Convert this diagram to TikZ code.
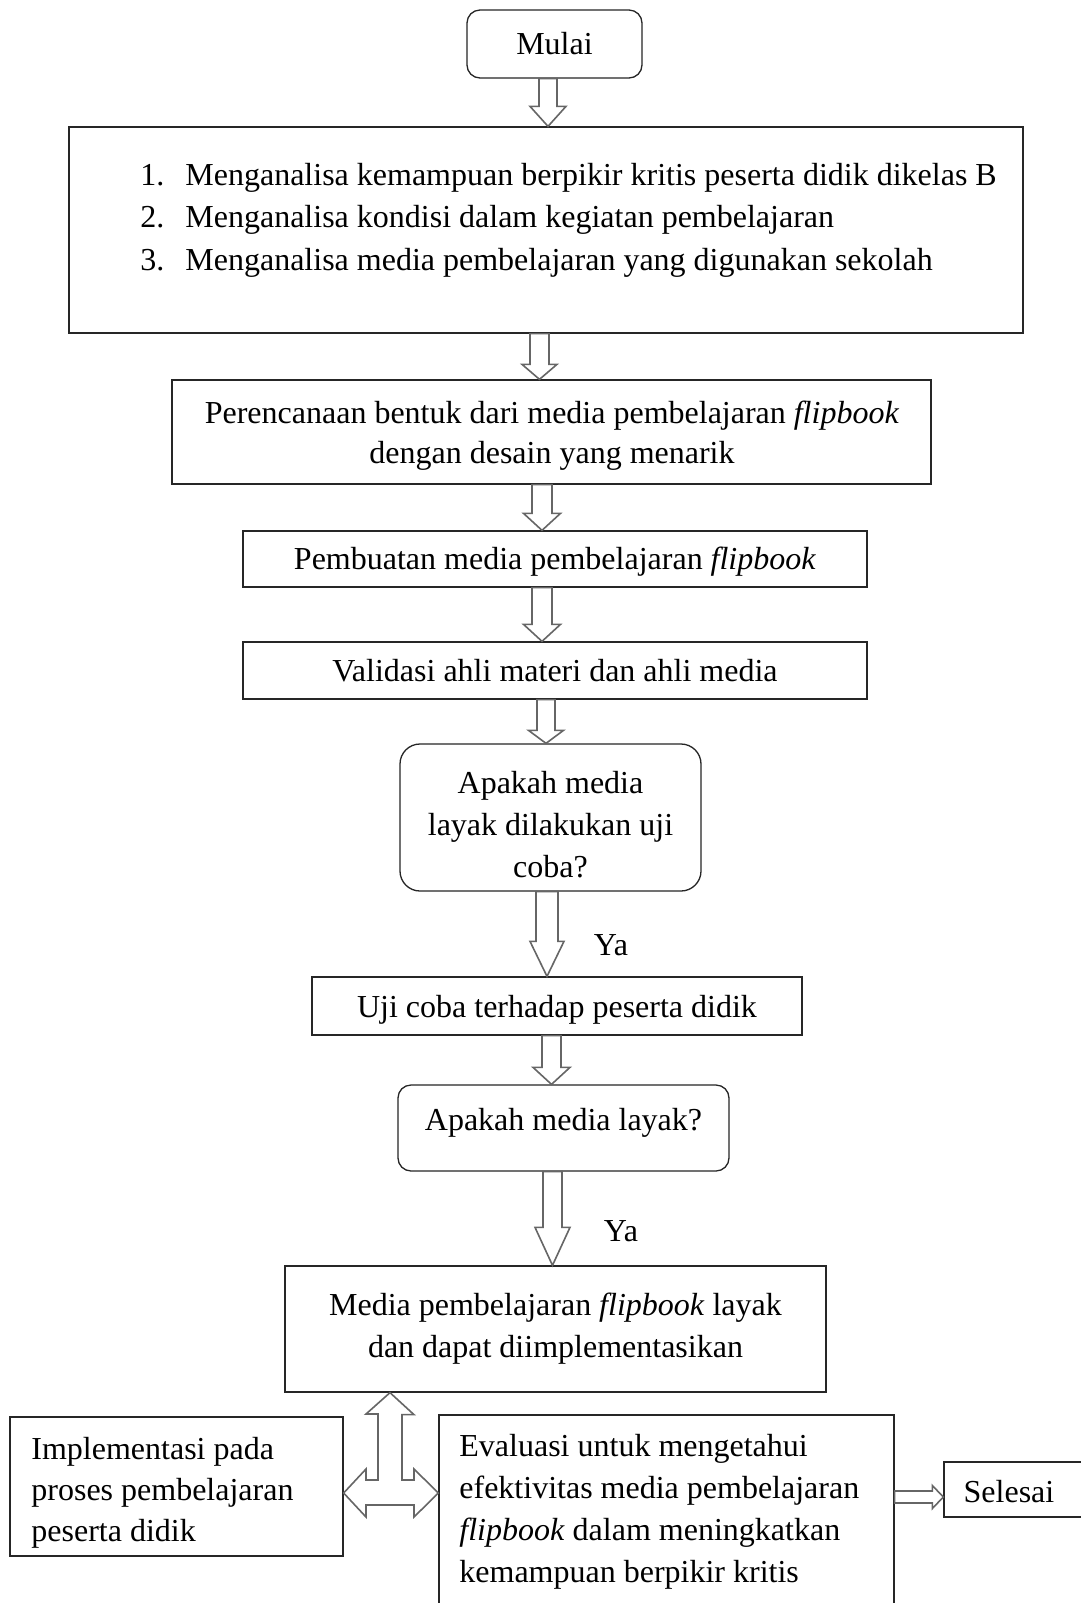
\documentclass[tikz,border=0pt]{standalone}
\usepackage{fontspec}
\setmainfont{Liberation Serif}
\usetikzlibrary{calc}
\tikzset{
  txt/.style={font=\fontsize{16}{21}\selectfont, inner sep=0pt},
  box/.style={draw=black!85, line width=0.65pt, fill=white, inner sep=0pt, txt, align=center},
  harrow/.style={draw=black!60, line width=0.8pt, fill=white, line join=miter},
}
\newcommand\bx[7]{\node[box, minimum width={#4*0.5pt}, minimum height={#5*0.5pt}, #6] (#1) at (#2,#3) {#7};}
\newcommand\hdown[6]{%
  \coordinate (hx) at (#3,0);
  \coordinate (hs) at (#1.south -| hx);
  \coordinate (he) at (#2.north -| hx);
  \draw[harrow] ($(hs)+(-#4,0)$) -- ($(he)+(-#4,-#6)$) -- ($(he)+(-#5,-#6)$) -- (he)
    -- ($(he)+(#5,-#6)$) -- ($(he)+(#4,-#6)$) -- ($(hs)+(#4,0)$) -- cycle;}
\begin{document}
\begin{tikzpicture}[x=0.5pt, y=-0.5pt]
\useasboundingbox (0,0) rectangle (1081,1603);
\clip (0,0) rectangle (1081,1603);
\fill[white] (0,0) rectangle (1081,1603);

% boxes
\bx{mulai}{554.5}{44}{175}{68}{rounded corners=6.5pt}{Mulai}
\bx{anal}{546}{230}{954}{206}{}{}
\node[txt, anchor=west, align=left, font=\fontsize{16}{21.25}\selectfont] (analtxt) at (140,220)
  {\makebox[22.5pt][l]{1.}Menganalisa kemampuan berpikir kritis peserta didik dikelas B\\
   \makebox[22.5pt][l]{2.}Menganalisa kondisi dalam kegiatan pembelajaran\\
   \makebox[22.5pt][l]{3.}Menganalisa media pembelajaran yang digunakan sekolah};
\bx{renc}{551.5}{432}{759}{104}{}{}
\node[txt, align=center, font=\fontsize{16}{20}\selectfont] (renctxt) at (552,436)
  {Perencanaan bentuk dari media pembelajaran \textit{flipbook}\\dengan desain yang menarik};
\bx{buat}{555}{559}{624}{56}{}{}
\node[txt] (buattxt) at (555,562) {Pembuatan media pembelajaran \textit{flipbook}};
\bx{valid}{555}{670.5}{624}{57}{}{Validasi ahli materi dan ahli media}
\bx{dec1}{550.5}{817.5}{301}{147}{rounded corners=10pt}{}
\node[txt, align=center] (dec1txt) at (550.5,825) {Apakah media\\layak dilakukan uji\\coba?};
\bx{uji}{557}{1006}{490}{58}{}{}
\node[txt] (ujitxt) at (557,1010) {Uji coba terhadap peserta didik};
\bx{dec2}{563.5}{1128}{331}{86}{rounded corners=6.5pt}{}
\node[txt] (dec2txt) at (563.5,1123) {Apakah media layak?};
\bx{layak}{555.5}{1329}{541}{126}{}{}
\node[txt, align=center] (layaktxt) at (555.5,1329)
  {Media pembelajaran \textit{flipbook} layak\\dan dapat diimplementasikan};
\bx{impl}{176.5}{1486.5}{333}{139}{}{}
\node[txt, anchor=west, align=left, font=\fontsize{16}{20.5}\selectfont] (impltxt) at (31,1493)
  {Implementasi pada\\proses pembelajaran\\peserta didik};
\bx{eval}{666.5}{1557.5}{455}{285}{}{}
\node[txt, anchor=west, align=left, font=\fontsize{16}{21}\selectfont] (evaltxt) at (459,1512)
  {Evaluasi untuk mengetahui\\efektivitas media pembelajaran\\\textit{flipbook} dalam meningkatkan\\kemampuan berpikir kritis};
\bx{sel}{1022}{1489.5}{156}{55}{}{}
\node[txt] (seltxt) at (1009,1492) {Selesai};

% labels
\node[txt] (ya1) at (611,945) {Ya};
\node[txt] (ya2) at (621,1231) {Ya};

% hollow arrows
\hdown{mulai}{anal}{548}{9}{18}{20}
\hdown{anal}{renc}{539.5}{9.5}{17.5}{15}
\hdown{renc}{buat}{542}{10}{18.5}{17}
\hdown{buat}{valid}{542}{10}{18.5}{17}
\hdown{valid}{dec1}{546}{9}{17.5}{13}
\hdown{dec1}{uji}{547}{11}{17}{35}
\hdown{uji}{dec2}{551.5}{9.5}{18.5}{17}
\hdown{dec2}{layak}{552.5}{9.5}{17.5}{38}

% three-way arrow
\coordinate (c390) at (390,0);
\coordinate (ut) at (layak.south -| c390);
\coordinate (c1493) at (0,1493);
\coordinate (lt) at (impl.east |- c1493);
\coordinate (rt) at (eval.west |- c1493);
\draw[harrow] (ut) -- ++(24,22) -- ++(-12,0) -- (402,1480) -- (414,1480) -- (414,1469) -- (rt)
  -- (414,1517) -- (414,1505) -- (366,1505) -- (366,1517) -- (lt) -- (366,1469)
  -- (366,1480) -- (378,1480) -- (378,1414) -- (366,1414) -- cycle;

% arrow to Selesai
\coordinate (c1497) at (0,1497);
\coordinate (sa) at (eval.east |- c1497);
\coordinate (sb) at (sel.west |- c1497);
\draw[harrow] ($(sa)+(0,-6)$) -- ($(sb)+(-11,-6)$) -- ($(sb)+(-11,-11.5)$) -- (sb)
  -- ($(sb)+(-11,11.5)$) -- ($(sb)+(-11,6)$) -- ($(sa)+(0,6)$) -- cycle;
\end{tikzpicture}
\end{document}
